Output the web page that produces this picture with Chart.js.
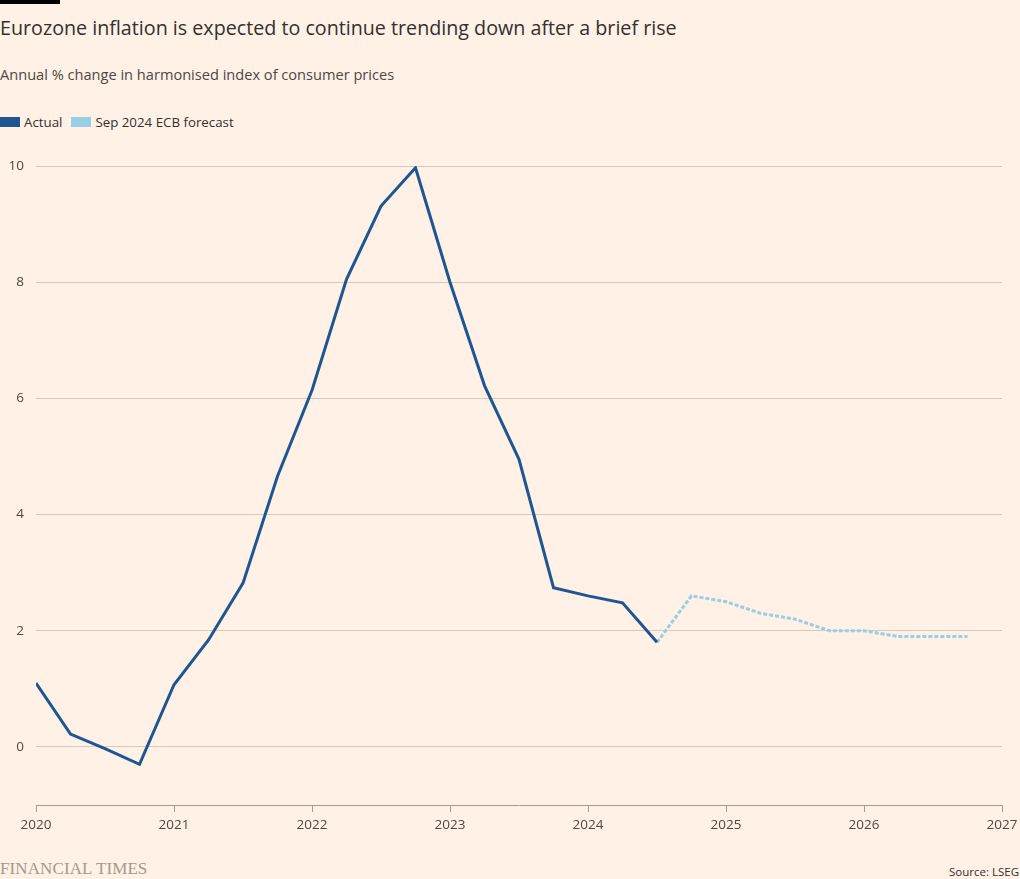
<!DOCTYPE html>
<html>
<head>
<meta charset="utf-8">
<script src="https://cdn.jsdelivr.net/npm/chart.js@4"></script>
<style>
  html, body { margin: 0; padding: 0; background: #fff1e5; }
  body { width: 1020px; height: 879px; position: relative; overflow: hidden; font-family: "Open Sans", sans-serif; }
  .bar { position: absolute; left: 0; top: 0; width: 60px; height: 4px; background: #000; }
  .title { position: absolute; left: 0; top: 14px; font-size: 19.7px; color: #33302e; white-space: nowrap; }
  .sub { position: absolute; left: 0; top: 64px; font-size: 14.6px; color: #4d4845; white-space: nowrap; }
  .legend { position: absolute; left: 0; top: 113px; font-size: 13.3px; color: #33302e; white-space: nowrap; display: flex; align-items: center; }
  .sw { display: inline-block; width: 20px; height: 10px; margin-right: 4px; }
  .item { display: flex; align-items: center; margin-right: 9px; }
  .ft { position: absolute; left: 0; top: 859px; font-family: "Liberation Serif", serif; font-size: 17px; color: #a5998d; white-space: nowrap; letter-spacing: 0.1px; }
  .src { position: absolute; right: 1px; top: 864px; font-size: 11.5px; color: #33302e; white-space: nowrap; }
  #wrap { position: absolute; left: 0; top: 140px; width: 1020px; height: 700px; }
</style>
</head>
<body>
<div class="bar"></div>
<div class="title">Eurozone inflation is expected to continue trending down after a brief rise</div>
<div class="sub">Annual % change in harmonised index of consumer prices</div>
<div class="legend">
  <span class="item"><span class="sw" style="background:#1d5691"></span>Actual</span>
  <span class="item"><span class="sw" style="background:#96cfe6"></span>Sep 2024 ECB forecast</span>
</div>
<div id="wrap"><canvas id="c"></canvas></div>
<div class="ft">FINANCIAL TIMES</div>
<div class="src">Source: LSEG</div>
<script>
const actualDates = [2020.0, 2020.25, 2020.5, 2020.75, 2021.0, 2021.25, 2021.5, 2021.75, 2022.0, 2022.25, 2022.5, 2022.75, 2023.0, 2023.25, 2023.5, 2023.75, 2024.0, 2024.25, 2024.5];
const actualValues = [1.10, 0.22, -0.03, -0.30, 1.07, 1.84, 2.82, 4.66, 6.14, 8.05, 9.31, 9.97, 8.00, 6.22, 4.95, 2.74, 2.60, 2.48, 1.80];
const forecastDates = [2024.5, 2024.75, 2025.0, 2025.25, 2025.5, 2025.75, 2026.0, 2026.25, 2026.5, 2026.75];
const forecastValues = [1.80, 2.60, 2.50, 2.30, 2.20, 2.00, 2.00, 1.90, 1.90, 1.90];
const xTicks = [2020, 2021, 2022, 2023, 2024, 2025, 2026, 2027];
const yTicks = [0, 2, 4, 6, 8, 10];

const toPts = (xs, ys) => xs.map((x, i) => ({ x: x, y: ys[i] }));
const tickFont = { family: "Open Sans", size: 13.5 };

new Chart(document.getElementById('c'), {
  type: 'line',
  data: {
    datasets: [
      { label: 'Actual', data: toPts(actualDates, actualValues), borderColor: '#1d5691', borderWidth: 3, pointRadius: 0, tension: 0 },
      { label: 'Sep 2024 ECB forecast', data: toPts(forecastDates, forecastValues), borderColor: '#96cfe6', borderWidth: 3, borderDash: [4, 2], pointRadius: 0, tension: 0 }
    ]
  },
  options: {
    responsive: true,
    maintainAspectRatio: false,
    animation: false,
    layout: { padding: { top: 26, right: 18, left: 0, bottom: 0 } },
    plugins: { legend: { display: false }, tooltip: { enabled: false } },
    scales: {
      x: {
        type: 'linear', min: 2020, max: 2027,
        afterBuildTicks: s => { s.ticks = xTicks.map(v => ({ value: v })); },
        afterFit: s => { s.height = 35; s.paddingLeft = 0; s.paddingRight = 0; },
        ticks: { color: '#4d4845', font: tickFont, padding: 5, maxRotation: 0, callback: v => String(v) },
        grid: { drawOnChartArea: false, drawTicks: true, tickLength: 7, color: '#a39a92' },
        border: { display: true, color: '#a39a92', width: 1 }
      },
      y: {
        type: 'linear', min: -1, max: 10,
        afterBuildTicks: s => { s.ticks = yTicks.map(v => ({ value: v })); },
        afterFit: s => { s.width = 36; s.paddingTop = 0; s.paddingBottom = 0; },
        ticks: { color: '#4d4845', font: tickFont, padding: 12 },
        grid: { drawTicks: false, color: '#d6c9bd', lineWidth: 1 },
        border: { display: false }
      }
    }
  }
});
</script>
</body>
</html>
